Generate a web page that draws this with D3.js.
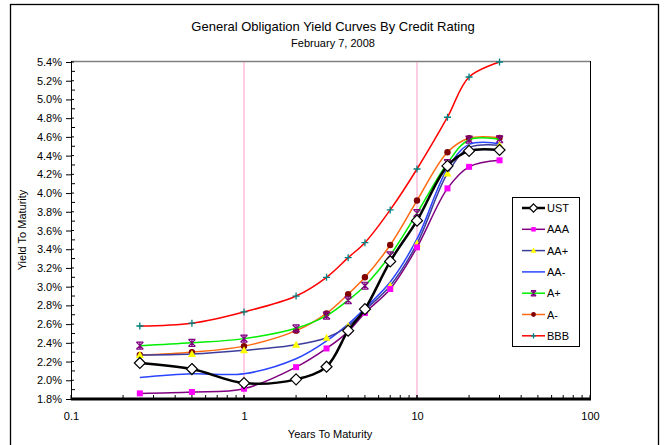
<!DOCTYPE html>
<html>
<head>
<meta charset="utf-8">
<script src="https://cdn.jsdelivr.net/npm/d3@7"></script>
<style>
  body { margin: 0; background: #fff; }
  text { font-family: "Liberation Sans", Arial, sans-serif; }
</style>
</head>
<body>
<svg id="SVG_CONTAINER" width="665" height="445"></svg>
<script>
// maturities in years
const maturities = [0.25, 0.5, 1, 2, 3, 4, 5, 7, 10, 15, 20, 30];

// yields in percent
const ust = [2.185, 2.12, 1.97, 2.01, 2.145, 2.53, 2.76, 3.27, 3.705, 4.29, 4.45, 4.46];
const aaa = [1.86, 1.875, 1.91, 2.14, 2.34, 2.52, 2.72, 2.975, 3.42, 4.05, 4.28, 4.35];
const aaPlus = [2.27, 2.28, 2.32, 2.38, 2.455, 2.58, 2.75, 3.01, 3.46, 4.21, 4.485, 4.51];
const aaMinus = [2.03, 2.07, 2.07, 2.23, 2.42, 2.60, 2.77, 3.05, 3.51, 4.26, 4.52, 4.53];
const aPlus = [2.37, 2.40, 2.445, 2.555, 2.69, 2.855, 3.01, 3.335, 3.785, 4.32, 4.57, 4.575];
const aMinus = [2.27, 2.30, 2.365, 2.53, 2.715, 2.92, 3.10, 3.445, 3.92, 4.436, 4.585, 4.59];
const bbb = [2.58, 2.61, 2.73, 2.90, 3.10, 3.31, 3.47, 3.82, 4.257, 4.81, 5.24, 5.40];

const seriesNames = ["UST", "AAA", "AA+", "AA-", "A+", "A-", "BBB"];
const yTicks = [1.8, 2.0, 2.2, 2.4, 2.6, 2.8, 3.0, 3.2, 3.4, 3.6, 3.8, 4.0, 4.2, 4.4, 4.6, 4.8, 5.0, 5.2, 5.4];
const xTicks = [0.1, 1, 10, 100];
const refLines = [1, 10];

const MARGIN = {LEFT: 71, RIGHT: 75, TOP: 62, BOTTOM: 46};
const width = 665, height = 445;

let svg = d3.select("#SVG_CONTAINER");

// outer chart border
svg.append("rect")
    .attr("x", 10.5).attr("y", 4.5)
    .attr("width", 648).attr("height", 450)
    .attr("fill", "none").attr("stroke", "#000").attr("stroke-width", 1.3);

//** SCALES *****************************************
let xScale = d3.scaleLog()
    .domain([0.1, 100])
    .range([MARGIN.LEFT, width - MARGIN.RIGHT]);

let yScale = d3.scaleLinear()
    .domain([1.8, 5.4])
    .range([height - MARGIN.BOTTOM, MARGIN.TOP]);

let series = [
    {name: seriesNames[0], values: ust, line: "#000000", width: 2.5, marker: "diamond", fill: "#ffffff", stroke: "#000"},
    {name: seriesNames[1], values: aaa, line: "#800080", width: 1.5, marker: "square", fill: "#ff00ff", stroke: "none"},
    {name: seriesNames[2], values: aaPlus, line: "#3c3c9c", width: 1.5, marker: "triangle", fill: "#ffff00", stroke: "none"},
    {name: seriesNames[3], values: aaMinus, line: "#2a44ff", width: 1.5, marker: "none"},
    {name: seriesNames[4], values: aPlus, line: "#00ee00", width: 1.5, marker: "asterisk", fill: "none", stroke: "#800080"},
    {name: seriesNames[5], values: aMinus, line: "#ff6a10", width: 1.5, marker: "circle", fill: "#800000", stroke: "none"},
    {name: seriesNames[6], values: bbb, line: "#ff0000", width: 1.5, marker: "plus", fill: "none", stroke: "#008080"}
];

let chart = svg.append("g").attr("class", "chart");

// plot frame: grey top, black right
chart.append("line")
    .attr("x1", MARGIN.LEFT).attr("x2", width - MARGIN.RIGHT)
    .attr("y1", MARGIN.TOP - 0.5).attr("y2", MARGIN.TOP - 0.5)
    .attr("stroke", "#808080").attr("stroke-width", 1.3);
chart.append("line")
    .attr("x1", width - MARGIN.RIGHT + 0.5).attr("x2", width - MARGIN.RIGHT + 0.5)
    .attr("y1", MARGIN.TOP - 1).attr("y2", height - MARGIN.BOTTOM)
    .attr("stroke", "#000").attr("stroke-width", 1);

// pink reference lines at 1 and 10 years
chart.selectAll(".refline")
    .data(refLines)
    .enter().append("line")
    .attr("class", "refline")
    .attr("x1", d => xScale(d)).attr("x2", d => xScale(d))
    .attr("y1", MARGIN.TOP).attr("y2", height - MARGIN.BOTTOM)
    .attr("stroke", "#ff99cc").attr("stroke-width", 1);

//** AXES *****************************************
// y axis: major ticks crossing, minor ticks inside
let yAxis = d3.axisLeft(yScale)
    .tickValues(yTicks)
    .tickSize(5)
    .tickPadding(4)
    .tickFormat(d => d.toFixed(1) + "%");

let yG = chart.append("g")
    .attr("class", "y_axis")
    .attr("transform", "translate(" + MARGIN.LEFT + ",0)")
    .call(yAxis);
yG.select(".domain").remove();
yG.selectAll("text").style("font-size", "11px").attr("fill", "#000");

let minorY = d3.range(1.9, 5.4, 0.2);
yG.selectAll(".minor")
    .data(minorY)
    .enter().append("line")
    .attr("x1", 0).attr("x2", 4)
    .attr("y1", d => yScale(d)).attr("y2", d => yScale(d))
    .attr("stroke", "#000");
yG.selectAll(".majorIn")
    .data(yTicks)
    .enter().append("line")
    .attr("x1", 0).attr("x2", 3)
    .attr("y1", d => yScale(d)).attr("y2", d => yScale(d))
    .attr("stroke", "#000");
yG.append("line")
    .attr("x1", 0.5).attr("x2", 0.5)
    .attr("y1", MARGIN.TOP - 1).attr("y2", height - MARGIN.BOTTOM)
    .attr("stroke", "#000");

// x axis: log, minor ticks pointing up
let xAxis = d3.axisBottom(xScale)
    .tickValues(xTicks)
    .tickSize(0)
    .tickPadding(13)
    .tickFormat(d => d3.format("~g")(d));

let xG = chart.append("g")
    .attr("class", "x_axis")
    .attr("transform", "translate(0," + (height - MARGIN.BOTTOM) + ")")
    .call(xAxis);
xG.select(".domain").remove();
xG.selectAll("text").style("font-size", "11px").attr("fill", "#000");

let minorX = [];
[0.1, 1, 10].forEach(function (dec) {
    for (let k = 1; k <= 10; k++) minorX.push(dec * k);
});
xG.selectAll(".minor")
    .data(minorX)
    .enter().append("line")
    .attr("x1", d => xScale(d)).attr("x2", d => xScale(d))
    .attr("y1", 0).attr("y2", -4)
    .attr("stroke", "#000");
xG.append("line")
    .attr("x1", MARGIN.LEFT).attr("x2", width - MARGIN.RIGHT + 1)
    .attr("y1", 0).attr("y2", 0)
    .attr("stroke", "#000").attr("stroke-width", 3);

// axis labels and titles
svg.append("text")
    .attr("x", 333).attr("y", 31)
    .attr("text-anchor", "middle")
    .style("font-size", "13px")
    .text("General Obligation Yield Curves By Credit Rating");
svg.append("text")
    .attr("x", 333).attr("y", 47)
    .attr("text-anchor", "middle")
    .style("font-size", "11px")
    .text("February 7, 2008");
svg.append("text")
    .attr("x", 330).attr("y", 438)
    .attr("text-anchor", "middle")
    .style("font-size", "11px")
    .text("Years To Maturity");
svg.append("text")
    .attr("transform", "translate(26,230) rotate(-90)")
    .attr("text-anchor", "middle")
    .style("font-size", "11px")
    .text("Yield To Maturity");

//** MARKERS *****************************************
function drawMarker(g, s, cx, cy, k) {
    if (s.marker === "diamond") {
        let r = 5.5 * k;
        g.append("path")
            .attr("d", "M" + cx + "," + (cy - r) + "L" + (cx + r) + "," + cy + "L" + cx + "," + (cy + r) + "L" + (cx - r) + "," + cy + "Z")
            .attr("fill", s.fill).attr("stroke", s.stroke).attr("stroke-width", 1.2);
    } else if (s.marker === "square") {
        let r = 3 * k;
        g.append("rect")
            .attr("x", cx - r).attr("y", cy - r).attr("width", 2 * r).attr("height", 2 * r)
            .attr("fill", s.fill);
    } else if (s.marker === "triangle") {
        let r = 4 * k;
        g.append("path")
            .attr("d", "M" + cx + "," + (cy - r) + "L" + (cx + r) + "," + (cy + r * 0.75) + "L" + (cx - r) + "," + (cy + r * 0.75) + "Z")
            .attr("fill", s.fill);
    } else if (s.marker === "circle") {
        g.append("circle")
            .attr("cx", cx).attr("cy", cy).attr("r", 3.2 * k)
            .attr("fill", s.fill);
    } else if (s.marker === "asterisk") {
        let r = 3.5 * k;
        g.append("path")
            .attr("d", "M" + (cx - r) + "," + (cy - r) + "L" + (cx + r) + "," + (cy + r) +
                "M" + (cx + r) + "," + (cy - r) + "L" + (cx - r) + "," + (cy + r) +
                "M" + cx + "," + (cy - r) + "L" + cx + "," + (cy + r) +
                "M" + (cx - r) + "," + (cy - r) + "L" + (cx + r) + "," + (cy - r) +
                "M" + (cx - r) + "," + (cy + r) + "L" + (cx + r) + "," + (cy + r))
            .attr("stroke", s.stroke).attr("stroke-width", 1.2).attr("fill", "none");
    } else if (s.marker === "plus") {
        let r = 3.5 * k;
        g.append("path")
            .attr("d", "M" + (cx - r) + "," + cy + "L" + (cx + r) + "," + cy +
                "M" + cx + "," + (cy - r) + "L" + cx + "," + (cy + r))
            .attr("stroke", s.stroke).attr("stroke-width", 1.3).attr("fill", "none");
    }
}

//** LINES *****************************************
let lines = chart.append("g").attr("class", "lines");
let lineGen = d3.line()
    .x(d => xScale(d[0]))
    .y(d => yScale(d[1]))
    .curve(d3.curveCatmullRom.alpha(0.5));

// draw in reverse so UST sits on top
series.slice().reverse().forEach(function (s) {
    let pts = maturities.map((m, i) => [m, s.values[i]]);
    lines.append("path")
        .datum(pts)
        .attr("d", lineGen)
        .attr("fill", "none")
        .attr("stroke", s.line)
        .attr("stroke-width", s.width);
    let mg = lines.append("g");
    pts.forEach(p => drawMarker(mg, s, xScale(p[0]), yScale(p[1]), 1));
});

//** LEGEND *****************************************
let legend = svg.append("g").attr("class", "legend");
legend.append("rect")
    .attr("x", 512.5).attr("y", 197.5)
    .attr("width", 67).attr("height", 149)
    .attr("fill", "#fff").attr("stroke", "#000").attr("stroke-width", 1);

let yLegend = 208;
series.forEach(function (s) {
    legend.append("line")
        .attr("x1", 522).attr("x2", 545)
        .attr("y1", yLegend).attr("y2", yLegend)
        .attr("stroke", s.line).attr("stroke-width", s.width);
    drawMarker(legend, s, 533.5, yLegend, 0.75);
    legend.append("text")
        .attr("x", 547).attr("y", yLegend + 4)
        .style("font-size", "11px")
        .text(s.name);
    yLegend += 21.3;
});
</script>
</body>
</html>
